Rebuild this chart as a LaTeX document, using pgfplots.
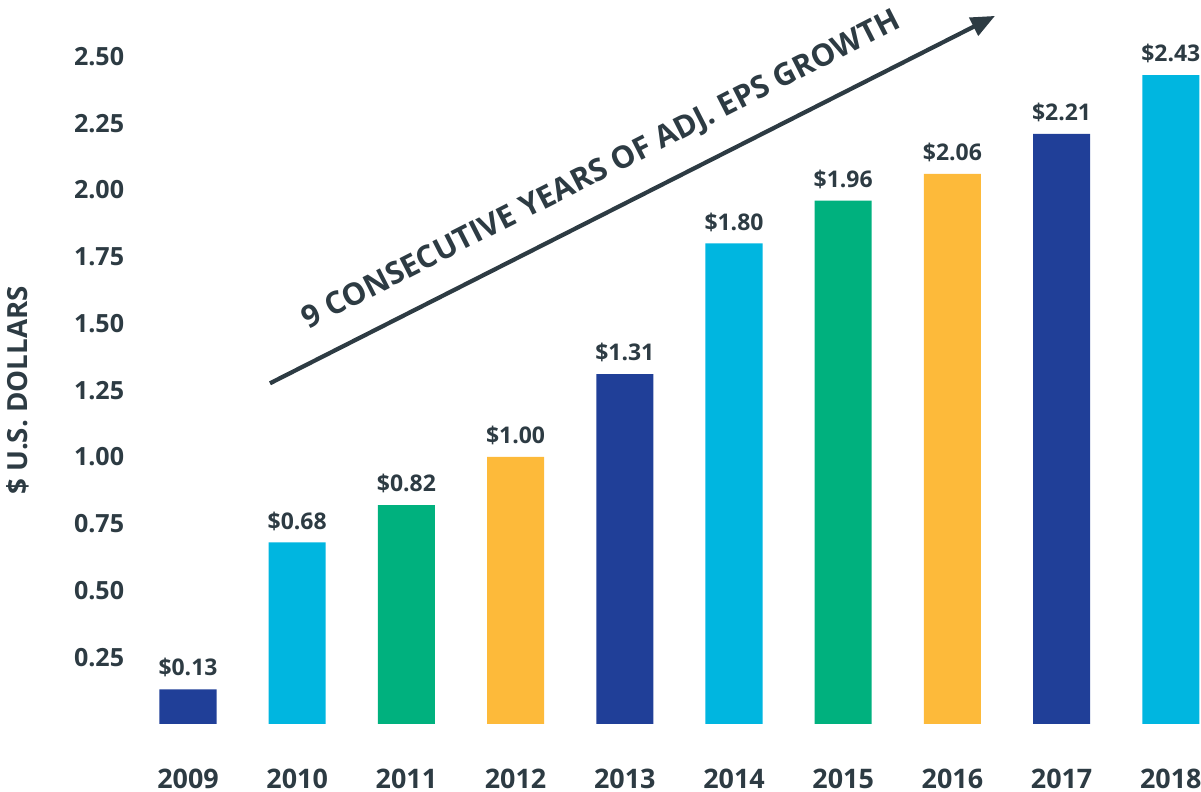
\documentclass[border=0pt]{standalone}
\usepackage{fontspec}
\setmainfont{Open Sans}
\usepackage{pgfplots}
\pgfplotsset{compat=1.18}
\usetikzlibrary{arrows.meta}
\definecolor{cDark}{RGB}{32,63,152}
\definecolor{cCyan}{RGB}{0,182,224}
\definecolor{cGreen}{RGB}{0,177,126}
\definecolor{cYellow}{RGB}{253,186,58}
\definecolor{cText}{RGB}{45,59,67}

\begin{document}
\begin{tikzpicture}
\begin{axis}[
    scale only axis,
    width=14.228cm,
    height=9.645cm,
    xmin=-0.5, xmax=9.28,
    ymin=0, ymax=2.7116,
    axis line style={draw=none},
    major tick length=0pt,
    clip=false,
    xtick={0,...,9},
    xticklabels={2009,2010,2011,2012,2013,2014,2015,2016,2017,2018},
    ytick={0.25,0.5,...,2.5},
    yticklabel style={font=\fontsize{9.5}{11}\selectfont\bfseries,text=cText,
                      /pgf/number format/fixed,
                      /pgf/number format/fixed zerofill,
                      /pgf/number format/precision=2,
                      /pgf/number format/assume math mode=true},
    xticklabel style={font=\fontsize{10.2}{12}\selectfont\bfseries,text=cText,yshift=-0.48cm},
    ybar, bar width=0.76cm, bar shift=0pt,
    every axis plot/.append style={draw=none},
    nodes near coords={\$\pgfmathprintnumber[fixed,fixed zerofill,precision=2,assume math mode=true]{\pgfplotspointmeta}},
    every node near coord/.append style={font=\fontsize{8.7}{10}\selectfont\bfseries,
                                         text=cText, yshift=1pt},
]
\addplot[fill=cDark] coordinates {(0,0.13) (4,1.31) (8,2.21)};
\addplot[fill=cCyan] coordinates {(1,0.68) (5,1.80) (9,2.43)};
\addplot[fill=cGreen] coordinates {(2,0.82) (6,1.96)};
\addplot[fill=cYellow] coordinates {(3,1.00) (7,2.06)};

% growth arrow and caption
\draw[-{Triangle[length=0.32cm,width=0.26cm]}, line width=1.6pt, cText]
    (axis cs:0.751,1.276) -- (axis cs:7.39,2.652);
\node[rotate=27, text=cText, font=\fontsize{11.65}{14}\selectfont\bfseries]
    at (axis cs:3.79,2.07) {9 CONSECUTIVE YEARS OF ADJ. EPS GROWTH};

% y label
\node[rotate=90, text=cText, font=\fontsize{10.5}{12}\selectfont\bfseries]
    at (axis cs:-1.557,1.25) {\$ U.S. DOLLARS};

% picture frame
\coordinate (bl) at (axis cs:-1.7216,-0.2547);
\coordinate (tr) at (axis cs:9.2766,2.7116);
\end{axis}
\pgfresetboundingbox
\useasboundingbox (bl) rectangle (tr);
\end{tikzpicture}
\end{document}
